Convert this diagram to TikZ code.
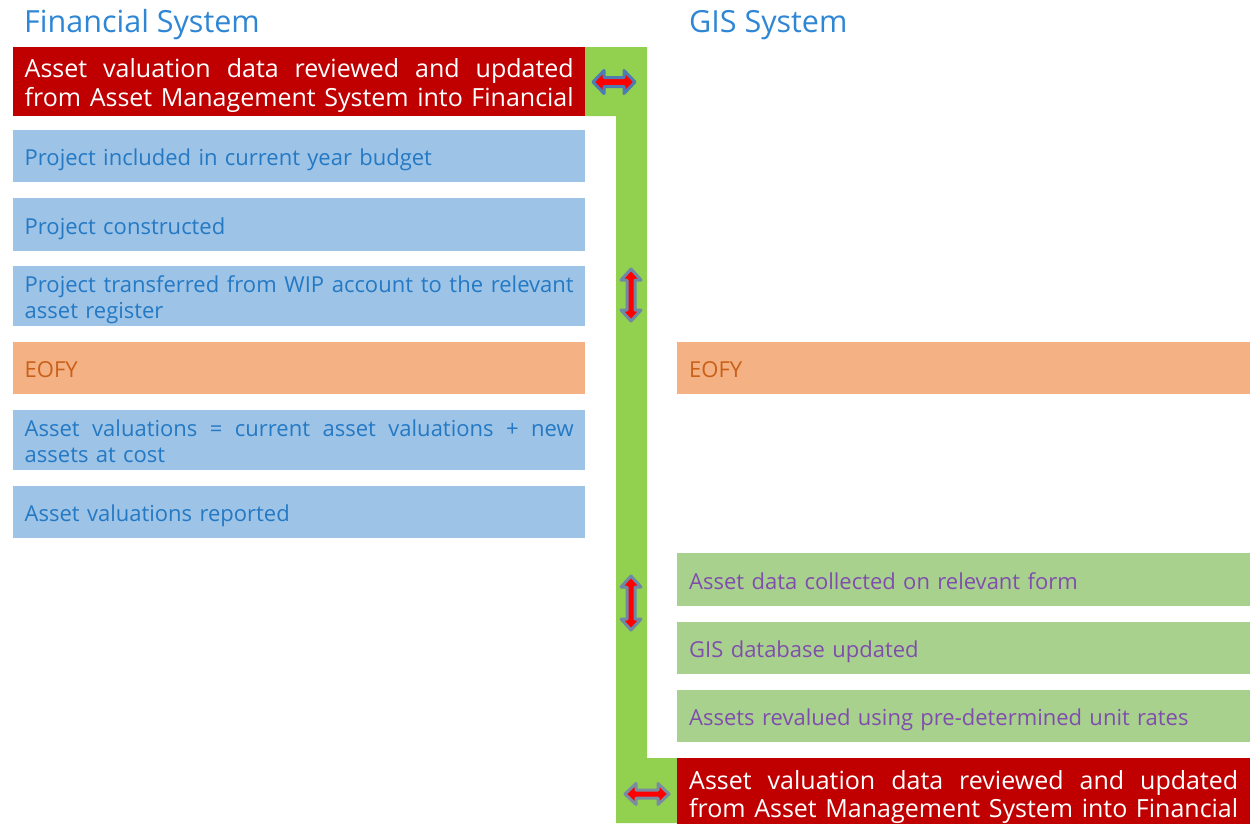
\documentclass[tikz,border=0pt]{standalone}
\usepackage{fontspec}
\setmainfont{Open Sans}
\definecolor{hdrred}{HTML}{C00000}
\definecolor{boxblue}{HTML}{9DC3E6}
\definecolor{boxorange}{HTML}{F4B183}
\definecolor{boxgreen}{HTML}{A9D18E}
\definecolor{barGreen}{HTML}{92D050}
\definecolor{titleblue}{HTML}{2E86D4}
\definecolor{txtblue}{HTML}{2479C4}
\definecolor{txtorange}{HTML}{C9601A}
\definecolor{txtpurple}{HTML}{7F4EAC}
\definecolor{arrA}{HTML}{4F7BB3}
\definecolor{arrB}{HTML}{6E88A6}
\definecolor{arrC}{HTML}{7A8CA2}
\newcommand\jline[1]{\hbox to 549pt{\spaceskip=0.26em plus 1fil\relax #1}}
\tikzset{
  title/.style={anchor=base west, inner sep=0pt, text=titleblue, font=\fontsize{30.5}{35}\selectfont},
  leftbox/.style={anchor=north west, minimum width=572pt, text width=549pt, align=left, inner xsep=0pt, inner ysep=0pt},
  rightbox/.style={leftbox, minimum width=573pt},
  bodytext/.style={font=\fontsize{22}{26}\selectfont, execute at begin node={\rule{0pt}{25pt}}, execute at end node={\unskip\nobreak\rule[-6pt]{0pt}{0pt}}},
  bluebox/.style={bodytext, fill=boxblue, text=txtblue},
  orangebox/.style={bodytext, fill=boxorange, text=txtorange},
  greenbox/.style={bodytext, fill=boxgreen, text=txtpurple},
  redbox/.style={fill=hdrred, text=white, font=\fontsize{25}{28.5}\selectfont, execute at begin node={\rule{0pt}{27pt}}},
  arrowfill/.style={fill=red, line width=3pt, line join=round},
  pics/dblarrow/.style n args={4}{code={%
    \draw[arrowfill, draw=#4] (-#1,0) -- (-#1+11,#2) -- (-#1+11,#3) -- (#1-11,#3) -- (#1-11,#2) -- (#1,0)
      -- (#1-11,-#2) -- (#1-11,-#3) -- (-#1+11,-#3) -- (-#1+11,-#2) -- cycle;}}
}
\begin{document}
\begin{tikzpicture}[x=1pt,y=-1pt]
\useasboundingbox (0,0) rectangle (1250,823);
% green connector bar
\fill[barGreen] (585,47) -- (647,47) -- (647,758) -- (677,758) -- (677,823) -- (616,823) -- (616,116) -- (585,116) -- cycle;
% titles
\node[title] (tfin) at (24,32) {Financial System};
\node[title] (tgis) at (689,32) {GIS System};
% left column
\node[leftbox, redbox, minimum height=69pt] (fa) at (13,47)
  {\jline{Asset valuation data reviewed and updated}\\
   \jline{from Asset Management System into Financial}};
\node[leftbox, bluebox, minimum height=52pt] (f1) at (13,130) {Project included in current year budget};
\node[leftbox, bluebox, minimum height=53pt] (f2) at (13,198) {Project constructed};
\node[leftbox, bluebox, minimum height=60pt] (f3) at (13,266)
  {\jline{Project transferred from WIP account to the relevant}\\asset register};
\node[leftbox, orangebox, minimum height=52pt] (f4) at (13,342) {EOFY};
\node[leftbox, bluebox, minimum height=60pt] (f5) at (13,410)
  {\jline{Asset valuations = current asset valuations + new}\\assets at cost};
\node[leftbox, bluebox, minimum height=52pt] (f6) at (13,486) {Asset valuations reported};
% right column
\node[rightbox, orangebox, minimum height=52pt] (g1) at (677,342) {EOFY};
\node[rightbox, greenbox, minimum height=53pt] (g2) at (677,553) {Asset data collected on relevant form};
\node[rightbox, greenbox, minimum height=52pt] (g3) at (677,622) {GIS database updated};
\node[rightbox, greenbox, minimum height=52pt] (g4) at (677,690) {Assets revalued using pre-determined unit rates};
\node[rightbox, redbox, minimum height=70pt] (ga) at (677,758)
  {\jline{Asset valuation data reviewed and updated}\\
   \jline{from Asset Management System into Financial}};
% double arrows
\pic at (614,82) {dblarrow={21}{11.5}{4.5}{arrA}};
\pic[rotate=90] at (631,295) {dblarrow={26}{10}{4}{arrB}};
\pic[rotate=90] at (631,603) {dblarrow={27}{10}{4}{arrB}};
\pic at (647,794) {dblarrow={22}{10.5}{4}{arrC}};
\end{tikzpicture}
\end{document}
